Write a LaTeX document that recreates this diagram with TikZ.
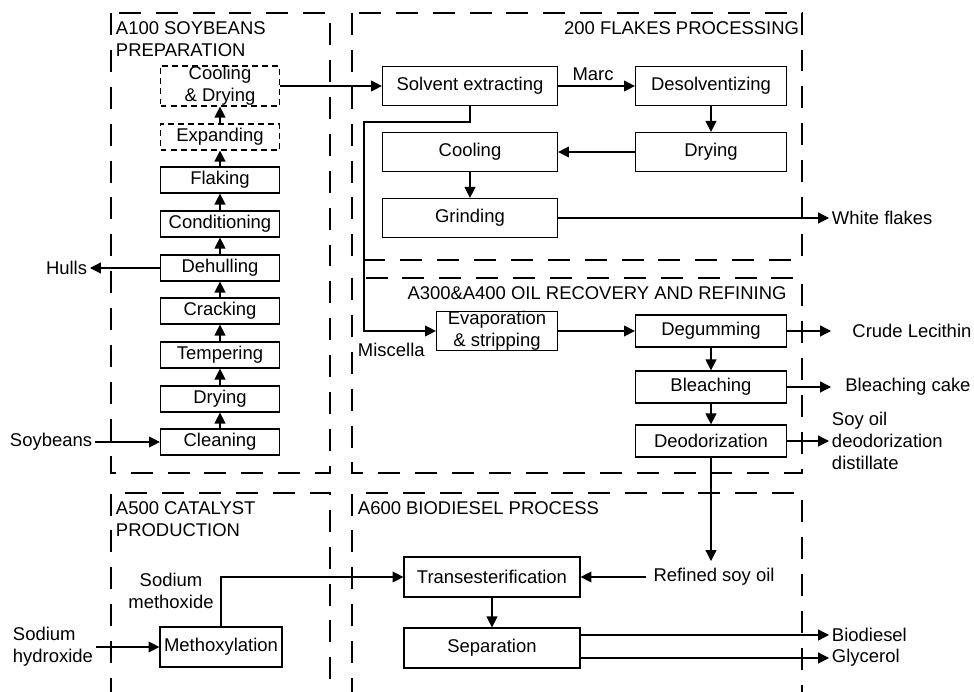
\documentclass[tikz,border=0pt]{standalone}
\usepackage{fontspec}
\setmainfont{Liberation Sans}
\usetikzlibrary{arrows.meta}

\begin{document}
\begin{tikzpicture}
  [x=0.02cm,y=-0.02cm,
   every node/.style={font=\fontsize{10.5}{12.5}\selectfont,inner sep=1.5pt},
   box/.style={draw,line width=0.7pt,minimum width=2.38cm,minimum height=0.52cm,inner sep=0pt,align=center},
   sbox/.style={box,dash pattern=on 3.4pt off 2.3pt},
   fbox/.style={box,minimum width=3.5cm,minimum height=0.78cm},
   rbox/.style={box,minimum width=3.02cm,minimum height=0.78cm},
   obox/.style={box,minimum width=3.02cm,minimum height=0.64cm},
   region/.style={line width=0.7pt,dash pattern=on 12.5pt off 8.5pt},
   arr/.style={line width=0.7pt,-{Triangle[length=6.2pt,width=6.2pt]}},
   lbl/.style={align=left}]
  \useasboundingbox (0,0) rectangle (974,692);
  \draw[region] (111,13) rectangle (330,473);
  \draw[region] (352,13) rectangle (802,260);
  \draw[region] (352,278) rectangle (802,473);
  \draw[region] (111,700) |- (330,493) -- (330,700);
  \draw[region] (352,700) |- (802,493) -- (802,700);
  \node[lbl,anchor=west] (t1) at (113,39) {A100 SOYBEANS\\PREPARATION};
  \node[anchor=east] (t2) at (802,28) {200 FLAKES PROCESSING};
  \node (t3) at (597,293) {A300\&A400 OIL RECOVERY AND REFINING};
  \node[lbl,anchor=west] (t5) at (113,519) {A500 CATALYST\\PRODUCTION};
  \node[anchor=west] (t6) at (355,508) {A600 BIODIESEL PROCESS};
  \node[sbox,minimum height=0.8cm] (cd) at (220,86) {Cooling\\\& Drying};
  \node[sbox] (ex) at (220,137) {Expanding};
  \node[box] (fl) at (220,180) {Flaking};
  \node[box] (cn) at (220,224) {Conditioning};
  \node[box] (dh) at (220,268) {Dehulling};
  \node[box] (ck) at (220,311) {Cracking};
  \node[box] (tm) at (220,355) {Tempering};
  \node[box] (dr) at (220,399) {Drying};
  \node[box] (cl) at (220,442) {Cleaning};
  \node[fbox] (se) at (470,86) {Solvent extracting};
  \node[rbox] (ds) at (711,86) {Desolventizing};
  \node[fbox] (co) at (470,152) {Cooling};
  \node[rbox] (dy) at (711,152) {Drying};
  \node[fbox] (gr) at (470,218) {Grinding};
  \node[box,minimum width=2.42cm,minimum height=0.78cm] (ev) at (497,331) {Evaporation\\\& stripping};
  \node[obox] (dg) at (711,331) {Degumming};
  \node[obox] (bl) at (711,387) {Bleaching};
  \node[obox] (de) at (711,441) {Deodorization};
  \node[box,minimum width=2.44cm,minimum height=0.8cm] (mx) at (221,647) {Methoxylation};
  \node[box,minimum width=3.52cm,minimum height=0.8cm] (tr) at (492,577) {Transesterification};
  \node[box,minimum width=3.52cm,minimum height=0.8cm] (sp) at (492,648) {Separation};
  \node[anchor=east] (hu) at (90,268) {Hulls};
  \node (sb) at (51,442) {Soybeans};
  \node (mc) at (593,74) {Marc};
  \node[anchor=west] (wf) at (829,218) {White flakes};
  \node[anchor=west] (mi) at (355,350) {Miscella};
  \node[anchor=west,inner xsep=12pt] (lc) at (831,331) {Crude Lecithin};
  \node[anchor=west,inner xsep=8pt] (bc) at (831,387) {Bleaching cake};
  \node[lbl,anchor=west] (so) at (829,441) {Soy oil\\deodorization\\distillate};
  \node[inner sep=4pt] (rs) at (714,577) {Refined soy oil};
  \node[align=center] (sm) at (171,591) {Sodium\\methoxide};
  \node[lbl,anchor=west] (sh) at (10,647) {Sodium\\hydroxide};
  \node[anchor=west] (bd) at (829,635) {Biodiesel};
  \node[anchor=west] (gl) at (829,658) {Glycerol};
  \coordinate (m1) at (364,122);
  \foreach \from/\to in {cl/dr,dr/tm,tm/ck,ck/dh,dh/cn,cn/fl,fl/ex,ex/cd,cd/se,se/ds,ds/dy,dy/co,co/gr,gr/wf,
      ev/dg,dg/bl,bl/de,dg/lc,bl/bc,de/so,sb/cl,dh/hu,rs/tr,tr/sp,sh/mx}
    \draw[arr] (\from) -- (\to);
  \draw[arr] (se) |- (m1) |- (ev);
  \draw[arr] (mx) |- (tr);
  \draw[arr] (de) -- (de |- rs.north);
  \draw[arr] (sp.east |- bd) -- (bd);
  \draw[arr] (sp.east |- gl) -- (gl);
\end{tikzpicture}
\end{document}
